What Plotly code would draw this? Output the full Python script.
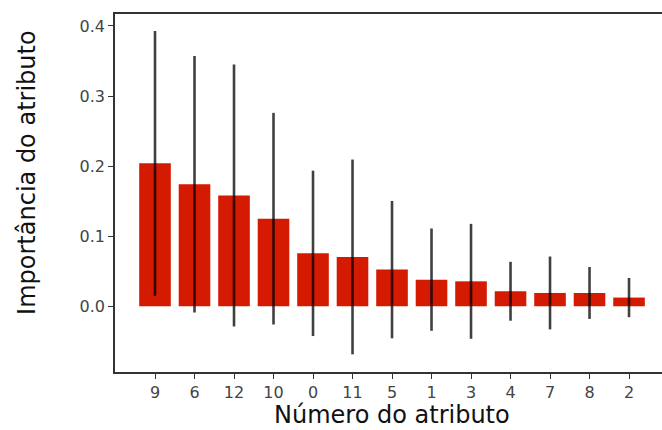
import plotly.graph_objects as go

# Attribute importances (mean) and their spread (std across trees), sorted by importance
atributos = ["9", "6", "12", "10", "0", "11", "5", "1", "3", "4", "7", "8", "2"]
importancia = [0.204, 0.174, 0.158, 0.125, 0.0755, 0.0704, 0.0523, 0.038, 0.0356, 0.0214, 0.019, 0.019, 0.0124]
desvio = [0.189, 0.183, 0.187, 0.151, 0.118, 0.139, 0.098, 0.073, 0.082, 0.042, 0.052, 0.037, 0.028]
y_ticks = [0.0, 0.1, 0.2, 0.3, 0.4]

fig = go.Figure(
    go.Bar(
        x=atributos,
        y=importancia,
        width=0.8,
        marker=dict(color="#d41a00", line=dict(width=0)),
        error_y=dict(
            type="data",
            array=desvio,
            symmetric=True,
            color="rgba(0,0,0,0.75)",
            thickness=2.6,
            width=0,
        ),
    )
)

axis_font = dict(family="DejaVu Sans", size=16, color="#444444")

fig.update_layout(
    width=662,
    height=430,
    margin=dict(l=115, r=0, t=14, b=58),
    paper_bgcolor="white",
    plot_bgcolor="white",
    showlegend=False,
    xaxis=dict(
        type="category",
        range=[-1.013, 12.835],
        showgrid=False,
        zeroline=False,
        showline=True,
        mirror=True,
        linecolor="#333333",
        linewidth=1.5,
        ticks="outside",
        ticklen=5,
        tickwidth=1.2,
        tickcolor="#333333",
        tickfont=axis_font,
    ),
    yaxis=dict(
        range=[-0.0938, 0.4171],
        tickvals=y_ticks,
        ticktext=[f"{v:.1f}" for v in y_ticks],
        showgrid=False,
        zeroline=False,
        showline=True,
        linecolor="#333333",
        linewidth=1.5,
        ticks="outside",
        ticklen=5,
        tickwidth=1.2,
        tickcolor="#333333",
        tickfont=axis_font,
    ),
    annotations=[
        dict(
            text="Número do atributo",
            xref="paper", yref="paper",
            x=(392 - 115) / 547, y=(372 - 415) / 358,
            xanchor="center", yanchor="middle",
            showarrow=False,
            font=dict(family="DejaVu Sans", size=24, color="#111111"),
        ),
        dict(
            text="Importância do atributo",
            xref="paper", yref="paper",
            x=-0.162, y=(372 - 172.5) / 358,
            xanchor="center", yanchor="middle",
            textangle=-90,
            showarrow=False,
            font=dict(family="DejaVu Sans", size=24, color="#111111"),
        ),
    ],
)

fig.write_html("out.html")
